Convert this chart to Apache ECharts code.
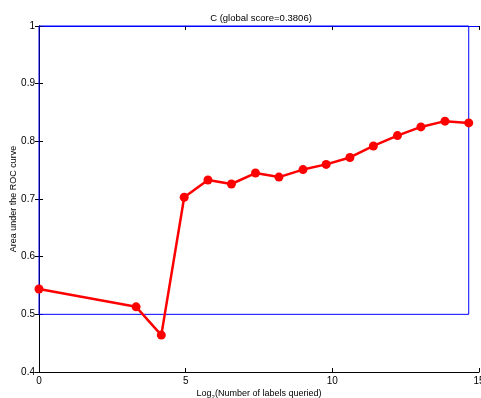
<!DOCTYPE html>
<html><head><meta charset="utf-8">
<script src="https://cdn.jsdelivr.net/npm/echarts@6/dist/echarts.min.js"></script>
<style>html,body{margin:0;padding:0;background:#fff}#c{width:481px;height:398px}</style>
</head><body><div id="c"></div>
<script>
var xValues = [0, 3.31, 4.17, 4.95, 5.76, 6.56, 7.38, 8.18, 9.0, 9.79, 10.6, 11.4, 12.22, 13.02, 13.84, 14.65];
var aucValues = [0.544, 0.513, 0.464, 0.703, 0.733, 0.726, 0.745, 0.738, 0.751, 0.760, 0.772, 0.792, 0.810, 0.825, 0.835, 0.832];
var boxX = [0, 14.65, 14.65, 0, 0];
var boxY = [0.5, 0.5, 1, 1, 0.5];
var xTicks = [0, 5, 10, 15];
var yTicks = [0.4, 0.5, 0.6, 0.7, 0.8, 0.9, 1];
var titleText = 'C (global score=0.3806)';

var font = 'Liberation Sans, Arial, Helvetica, sans-serif';
var chart = echarts.init(document.getElementById('c'));
function axisCommon(color) {
  return {
    axisLine: {show: true, lineStyle: {color: color || '#000', width: 1}},
    axisTick: {show: true, inside: true, length: 4, lineStyle: {color: '#000'}},
    splitLine: {show: false}
  };
}
chart.setOption({
  animation: false,
  title: {text: titleText, left: 256, top: 8, textAlign: 'center',
    textStyle: {fontFamily: font, fontSize: 9.5, fontWeight: 'normal', color: '#000'}},
  grid: {left: 39, right: 2, top: 26, bottom: 26, containLabel: false, outerBoundsMode: 'none'},
  xAxis: [
    Object.assign({type: 'value', min: 0, max: 15, interval: 5, position: 'bottom',
      name: 'Log{sub|2}(Number of labels queried)', nameLocation: 'middle', nameGap: 16,
      nameMoveOverlap: false,
      nameTextStyle: {fontFamily: font, fontSize: 9, color: '#000',
        rich: {sub: {fontSize: 6, verticalAlign: 'bottom', padding: [6, 0, 0, 0], fontFamily: font, color: '#000'}}},
      axisLabel: {fontFamily: font, fontSize: 10, color: '#000', margin: 4,
        formatter: function (v) { return xTicks.indexOf(v) >= 0 ? String(v) : ''; }}
    }, axisCommon()),
    Object.assign({type: 'value', min: 0, max: 15, interval: 5, position: 'top',
      axisLabel: {show: false}}, axisCommon('#0000ff'))
  ],
  yAxis: [
    Object.assign({type: 'value', min: 0.4, max: 1, interval: 0.1, position: 'left',
      name: 'Area under the ROC curve', nameLocation: 'middle', nameGap: 21,
      nameMoveOverlap: false,
      nameTextStyle: {fontFamily: font, fontSize: 9, color: '#000'},
      axisLabel: {fontFamily: font, fontSize: 10, color: '#000', margin: 4,
        formatter: function (v) { var r = Math.round(v * 10) / 10; return r === 1 ? '1' : String(r); }}
    }, axisCommon()),
    Object.assign({type: 'value', min: 0.4, max: 1, interval: 0.1, position: 'right',
      axisLabel: {show: false}}, axisCommon())
  ],
  series: [
    {type: 'line', data: boxX.map(function (x, i) { return [x, boxY[i]]; }),
      symbol: 'none', lineStyle: {color: '#0000ff', width: 1}, z: 3, silent: true, clip: false},
    {type: 'line', data: xValues.map(function (x, i) { return [x, aucValues[i]]; }),
      symbol: 'circle', symbolSize: 9, itemStyle: {color: '#ff0000'},
      lineStyle: {color: '#ff0000', width: 2.5}, z: 4, clip: false}
  ]
});
</script></body></html>
